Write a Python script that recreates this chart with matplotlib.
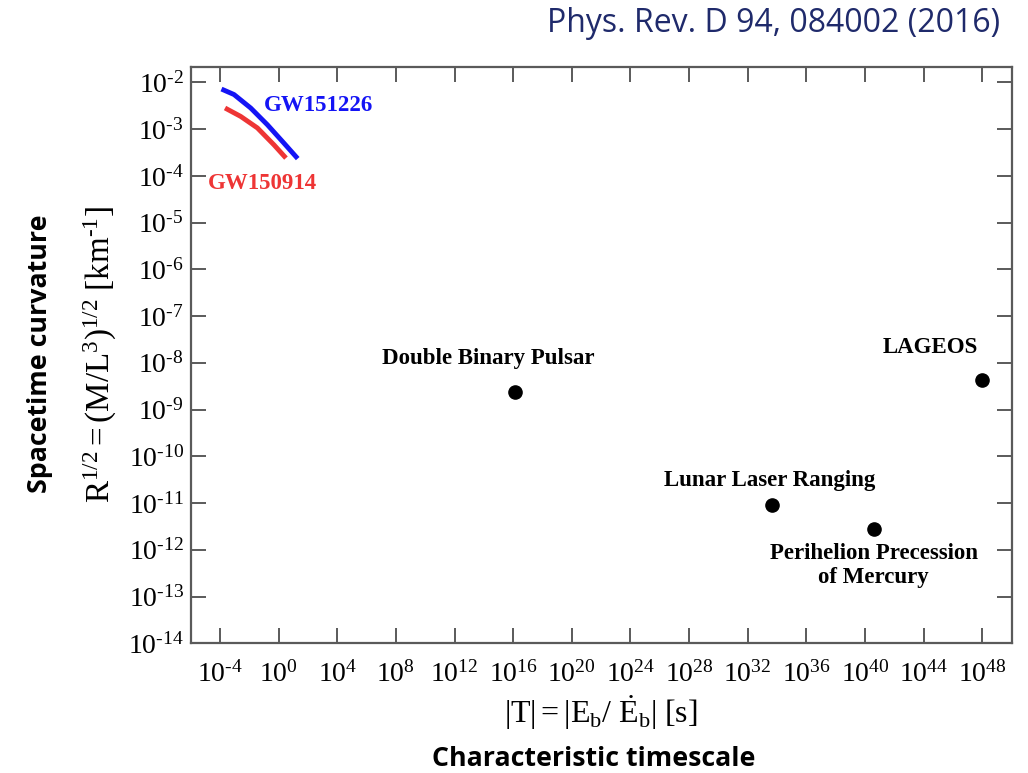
import matplotlib
matplotlib.use("Agg")
import matplotlib.pyplot as plt
from matplotlib.ticker import FixedLocator, FuncFormatter, NullLocator
import math

plt.rcParams["font.family"] = "Liberation Serif"
plt.rcParams["mathtext.fontset"] = "custom"
plt.rcParams["mathtext.rm"] = "Liberation Serif"
plt.rcParams["mathtext.it"] = "Liberation Serif:italic"
plt.rcParams["mathtext.bf"] = "Liberation Serif:bold"
plt.rcParams["axes.unicode_minus"] = False

# Gravitational-wave inspirals: characteristic timescale [s] vs curvature [km^-1]
gw151226_T = [1.26e-4, 9.0e-4, 1.24e-2, 0.171, 2.32, 20.0]
gw151226_R = [7.2e-3, 5.5e-3, 2.83e-3, 1.24e-3, 5.0e-4, 2.34e-4]
gw150914_T = [2.2e-4, 2.58e-3, 3.56e-2, 0.483, 3.16]
gw150914_R = [2.83e-3, 1.87e-3, 1.06e-3, 4.6e-4, 2.4e-4]

# Weak-field tests
test_names = ["Double Binary Pulsar", "LAGEOS", "Lunar Laser Ranging",
              "Perihelion Precession\nof Mercury"]
test_T = [1.26e16, 1.0e48, 4.8e33, 4.0e40]
test_R = [2.4e-9, 4.2e-9, 9.3e-12, 2.75e-12]
label_offsets = [(-19, 24), (-37, 24), (-2, 17), (0, -26)]

x_ticks = [10.0 ** e for e in range(-4, 49, 4)]
y_ticks = [10.0 ** e for e in range(-14, -1)]


def pow10_label(v, pos):
    e = int(round(math.log10(v)))
    if e < 0:
        return r"$\mathdefault{10^{\text{-}%d}}$" % (-e)
    return r"$\mathdefault{10^{%d}}$" % e


fig = plt.figure(figsize=(10.28, 7.73), dpi=100)
ax = fig.add_axes([0.1855, 0.1678, 0.7985, 0.7451])
ax.set_xscale("log")
ax.set_yscale("log")
ax.set_xlim(1e-6, 1e50)
ax.set_ylim(1e-14, 2.1e-2)

blue = "#1414f5"
red = "#ee3535"
ax.plot(gw151226_T, gw151226_R, color=blue, lw=3.5, solid_capstyle="butt",
        solid_joinstyle="round")
ax.plot(gw150914_T, gw150914_R, color=red, lw=3.5, solid_capstyle="butt",
        solid_joinstyle="round")
ax.annotate("GW151226", xy=(gw151226_T[2], gw151226_R[2]), xytext=(49, 2),
            textcoords="offset points", ha="center", va="center",
            color=blue, fontsize=16.5, fontweight="bold")
ax.annotate("GW150914", xy=(gw150914_T[0], gw150914_R[0]), xytext=(27, -54),
            textcoords="offset points", ha="center", va="center",
            color=red, fontsize=16.5, fontweight="bold")

ax.plot(test_T, test_R, "o", color="black", ms=9.5, ls="none")
for name, t, r, off in zip(test_names, test_T, test_R, label_offsets):
    ax.annotate(name, xy=(t, r), xytext=off, textcoords="offset points",
                ha="center", va="center", fontsize=16.5, fontweight="bold",
                linespacing=1.2)

spine_c = "#5a5a5a"
for s in ax.spines.values():
    s.set_color(spine_c)
    s.set_linewidth(1.6)
ax.xaxis.set_major_locator(FixedLocator(x_ticks))
ax.yaxis.set_major_locator(FixedLocator(y_ticks))
ax.xaxis.set_minor_locator(NullLocator())
ax.yaxis.set_minor_locator(NullLocator())
ax.xaxis.set_major_formatter(FuncFormatter(pow10_label))
ax.yaxis.set_major_formatter(FuncFormatter(pow10_label))
ax.tick_params(which="major", direction="in", length=11, width=1.4,
               color=spine_c, top=True, right=True, labelsize=20)
ax.tick_params(axis="x", pad=13)
ax.tick_params(axis="y", pad=5)

ax.set_xlabel(r"$|\mathrm{T}|=|\mathrm{E}_\mathrm{b}/\ \dot{\mathrm{E}}_\mathrm{b}|\ [\mathrm{s}]$",
              fontsize=23, labelpad=4)
fig.text(0.098, 0.541,
         r"$\mathrm{R}^{1/2}=(\mathrm{M/L}^{3})^{1/2}\ [\mathrm{km}^{\text{-}1}]$",
         rotation=90, ha="center", va="center", fontsize=23.8)
fig.text(0.039, 0.543, "Spacetime curvature", rotation=90, ha="center",
         va="center", fontsize=19.3, fontweight="bold", family="Open Sans")
fig.text(0.578, 0.018, "Characteristic timescale", ha="center", va="center",
         fontsize=19.3, fontweight="bold", family="Open Sans")
fig.text(0.973, 0.969, "Phys. Rev. D 94, 084002 (2016)", ha="right", va="center",
         fontsize=23, color="#1f2a6b", family="Open Sans")

fig.savefig("out.png", dpi=100)
